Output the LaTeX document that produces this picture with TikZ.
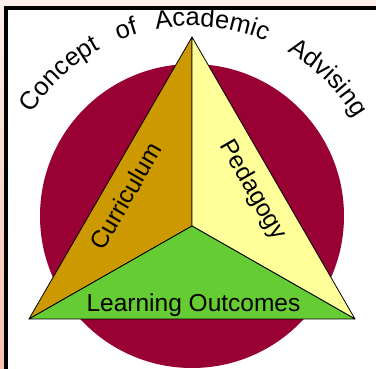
\documentclass[tikz,border=0pt]{standalone}
\usepackage{fontspec}
\setmainfont{Liberation Sans}
\usetikzlibrary{decorations.text}
\definecolor{maroon}{HTML}{990033}
\definecolor{gold}{HTML}{CC9900}
\definecolor{paleyellow}{HTML}{FFFF99}
\definecolor{leafgreen}{HTML}{66CC33}
\definecolor{bgpink}{HTML}{FCEEEA}
\definecolor{salmon}{HTML}{F7C2AE}
\tikzset{
  facet/.style={draw=black, line width=0.8pt, line join=round},
  innerlabel/.style={font=\fontsize{24.5}{24.5}\selectfont, inner sep=0pt, anchor=base, text=black},
  arcword/.style={decorate, decoration={text along path, text align=center, text={|\fontsize{25.5}{25.5}\selectfont|#1}}}
}
\begin{document}
\begin{tikzpicture}[x=1pt,y=1pt]
\useasboundingbox (0,0) rectangle (376,369);
% background and frame
\fill[white] (0,0) rectangle (376,369);
\fill[bgpink] (0,362) rectangle (376,369);
\shade[top color=bgpink, bottom color=salmon] (0,0) rectangle (4,369);
\fill[black] (4,359) rectangle (376,362.5);
\fill[black] (4,0) rectangle (8.3,362.5);
% geometry
\coordinate (o) at (192,153);
\coordinate (apex) at (192,332);
\coordinate (bl) at (29,50);
\coordinate (br) at (355,50);
\coordinate (ctr) at (192,143);
% disk
\fill[maroon] (o) circle[radius=152];
% triangle facets
\filldraw[facet, fill=gold] (apex) -- (ctr) -- (bl) -- cycle;
\filldraw[facet, fill=paleyellow] (apex) -- (br) -- (ctr) -- cycle;
\filldraw[facet, fill=leafgreen] (bl) -- (ctr) -- (br) -- cycle;
% labels
\node[innerlabel, rotate=60] (curr) at (133,168.5) {Curriculum};
\node[innerlabel, rotate=-60] (peda) at (247,175.5) {Pedagogy};
\node[innerlabel] (learn) at (193.5,57) {Learning Outcomes};
% arc title
\path[arcword=Concept] (o) ++(163:190) arc[start angle=163, end angle=103, radius=190];
\path[arcword=of] (o) ++(129.5:190) arc[start angle=129.5, end angle=89.5, radius=190];
\path[arcword=Academic] (o) ++(119:190) arc[start angle=119, end angle=49, radius=190];
\path[arcword=Advising] (o) ++(75.5:190) arc[start angle=75.5, end angle=15.5, radius=190];
\end{tikzpicture}
\end{document}
